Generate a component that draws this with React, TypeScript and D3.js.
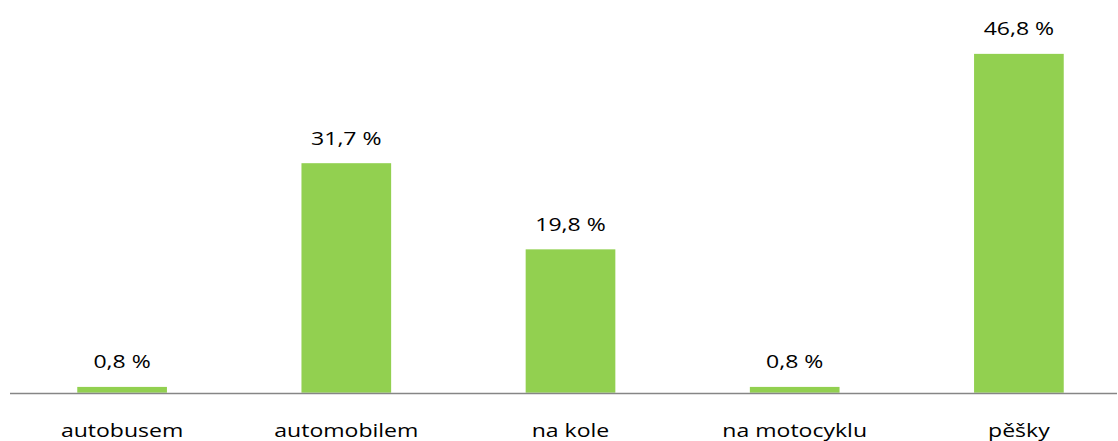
import React from "react";
import * as d3 from "d3";

const categories: string[] = ["autobusem", "automobilem", "na kole", "na motocyklu", "pěšky"];
const values: number[] = [0.8, 31.7, 19.8, 0.8, 46.8];
const valueLabels: string[] = ["0,8 %", "31,7 %", "19,8 %", "0,8 %", "46,8 %"];

const W = 1118;
const H = 441;
const plotLeft = 10;
const plotRight = 1131;
const baseY = 392.7;
const topY = 30.7;
const axisRight = 1117;
const FONT = "'Open Sans', sans-serif";
const FS = 18;
const SX = 1.28;

export default function App() {
  const x = d3.scaleBand<string>().domain(categories).range([plotLeft, plotRight]).paddingInner(0.6).paddingOuter(0.3);
  const y = d3.scaleLinear().domain([0, 50]).range([baseY, topY]);
  return (
    <svg width={W} height={H} style={{ position: "absolute", left: 0, top: 0, background: "#fff" }}>
      {categories.map((c, i) => {
        const bx = x(c)!;
        const cx = bx + x.bandwidth() / 2;
        const ty = y(values[i]);
        return (
          <g key={c}>
            <rect x={bx} y={ty} width={x.bandwidth()} height={y(0) - ty} fill="#92D050" />
            <text
              transform={`translate(${cx},${ty - 18.5}) scale(${SX},1)`}
              textAnchor="middle"
              fontFamily={FONT}
              fontSize={FS}
              fill="#000"
            >
              {valueLabels[i]}
            </text>
            <text
              transform={`translate(${cx},${437}) scale(${SX},1)`}
              textAnchor="middle"
              fontFamily={FONT}
              fontSize={FS}
              fill="#000"
            >
              {c}
            </text>
          </g>
        );
      })}
      <line x1={plotLeft} x2={axisRight} y1={baseY + 0.8} y2={baseY + 0.8} stroke="#868686" strokeWidth={1.6} />
    </svg>
  );
}
